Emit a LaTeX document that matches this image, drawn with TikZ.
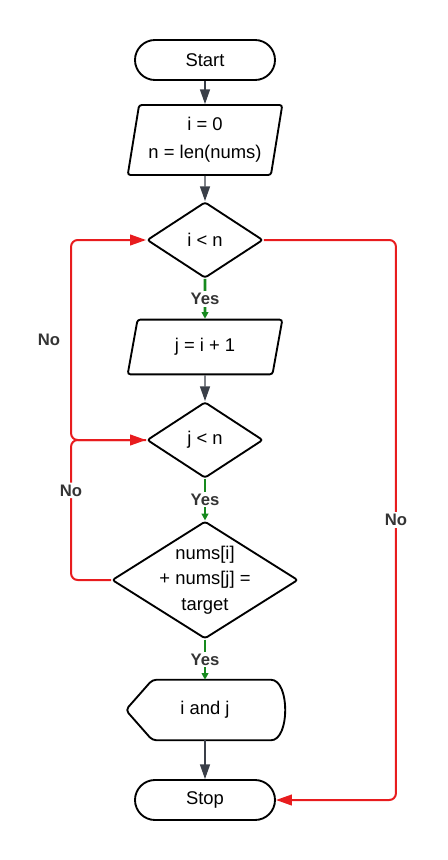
\documentclass[tikz,border=0pt]{standalone}
\usepackage{fontspec}
\setmainfont{Liberation Sans}
\usetikzlibrary{arrows.meta, shapes.geometric, positioning}
\definecolor{nored}{RGB}{232,28,30}
\definecolor{yesgreen}{RGB}{22,138,30}
\definecolor{arrowgray}{RGB}{58,63,72}
\definecolor{lblgray}{RGB}{52,52,52}

\begin{document}
\begin{tikzpicture}[x=0.75pt, y=-0.75pt, font=\fontsize{13.8}{19}\selectfont,
	terminal/.style={draw, line width=1.4pt, rectangle, rounded corners=15pt, minimum width=105pt, minimum height=30pt},
	io/.style={draw, line width=1.4pt, trapezium, trapezium left angle=79, trapezium right angle=101, trapezium stretches=true, rounded corners=2pt, minimum width=116pt, align=center},
	decision/.style={draw, line width=1.4pt, diamond, aspect=1.5, rounded corners=2pt, inner sep=0pt, align=center},
	flow/.style={draw=arrowgray, line width=1pt, -{Triangle[width=7.5pt,length=11pt]}},
	yes/.style={draw=yesgreen, line width=2pt, -{Triangle[width=5pt,length=5pt]}},
	no/.style={draw=nored, line width=1.5pt, rounded corners=5pt, -{Triangle[width=8pt,length=12pt]}},
	lbl/.style={fill=white, text=lblgray, font=\fontsize{12.5}{14}\bfseries, inner sep=1.5pt}]

		\useasboundingbox (0,0) rectangle (447,860);

		\node[terminal] (start) at (205,60) {Start};
		\node[io, minimum height=52.5pt] (init) at (205,140) {i = 0\\[2pt]n = len(nums)};
		\node[decision, minimum width=87pt, minimum height=57pt] (ci) at (205,240) {i < n};
		\node[io, minimum height=41pt] (setj) at (205,347) {j = i + 1};
		\node[decision, minimum width=87pt, minimum height=57pt] (cj) at (205,440) {j < n};
		\node[decision, minimum width=139.5pt, minimum height=88pt] (sum) at (205,580) {};
		\node[align=center] (sumtxt) at (sum.center) {nums[i]\\+ nums[j] =\\target};
		\node[minimum width=118.5pt, minimum height=45pt] (out) at (205,710) {i and j};
		\node[terminal] (stop) at (205,800) {Stop};
		\draw[line width=1.4pt, rounded corners=3pt] (out.west) -- ([xshift=20pt]out.north west) -- ([xshift=-13pt]out.north east) .. controls ([xshift=4.3pt]out.north east) and ([xshift=4.3pt]out.south east) .. ([xshift=-13pt]out.south east) -- ([xshift=20pt]out.south west) -- cycle;

		\draw[flow] (start) -- (init);
		\draw[flow] (init) -- (ci);
		\draw[yes] (ci) -- node[lbl]{Yes} (setj);
		\draw[flow] (setj) -- (cj);
		\draw[yes] (cj) -- node[lbl]{Yes} (sum);
		\draw[yes] (sum) -- node[lbl]{Yes} (out.north);
		\draw[flow] (out) -- (stop);
		\draw[no] (ci.east) -- ++(132,0) |- node[lbl, pos=0.25]{No} (stop.east);
		\draw[no] (sum.west) -- ++(-40,0) |- node[lbl, pos=0.32]{No} (cj.west);
		\draw[no] (cj.west) -- ++(-75,0) |- node[lbl, pos=0.25, anchor=east, fill=none, xshift=-6pt]{No} (ci.west);

\end{tikzpicture}
\end{document}
